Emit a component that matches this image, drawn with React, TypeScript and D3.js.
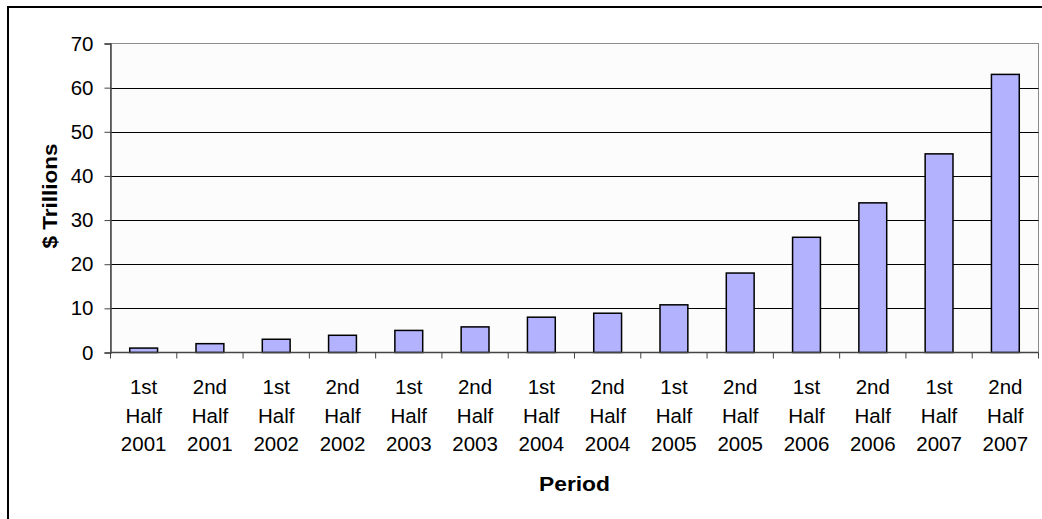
import React, { useEffect, useRef } from 'react';
import * as d3 from 'd3';

const periods = [
  ['1st', 'Half', '2001'], ['2nd', 'Half', '2001'],
  ['1st', 'Half', '2002'], ['2nd', 'Half', '2002'],
  ['1st', 'Half', '2003'], ['2nd', 'Half', '2003'],
  ['1st', 'Half', '2004'], ['2nd', 'Half', '2004'],
  ['1st', 'Half', '2005'], ['2nd', 'Half', '2005'],
  ['1st', 'Half', '2006'], ['2nd', 'Half', '2006'],
  ['1st', 'Half', '2007'], ['2nd', 'Half', '2007'],
];
const trillions = [1, 2, 3, 3.9, 5, 5.8, 8, 8.9, 10.8, 18, 26.1, 33.9, 45, 63];
const yTicks = [0, 10, 20, 30, 40, 50, 60, 70];

const App = () => {
  const svgRef = useRef<SVGSVGElement>(null);

  useEffect(() => {
    const width = 1042;
    const height = 519;
    const left = 110.5, right = 1038.5, top = 43.5, bottom = 352.5;
    const font = 'Arial, "Liberation Sans", sans-serif';
    const fontSize = 20.5;

    const svg = d3.select(svgRef.current)
      .attr('width', width)
      .attr('height', height);
    svg.selectAll('*').remove();

    // Outer chart frame (runs past the window on the right and bottom)
    svg.append('rect')
      .attr('x', 8).attr('y', 7)
      .attr('width', 1100).attr('height', 600)
      .attr('fill', '#fff')
      .attr('stroke', '#000')
      .attr('stroke-width', 2);

    const keys = periods.map((_, i) => String(i));
    const x = d3.scaleBand().domain(keys).range([left, right]).paddingInner(0.58).paddingOuter(0.29);
    const xOuter = d3.scaleBand().domain(keys).range([left, right]);
    const y = d3.scaleLinear().domain([0, 70]).range([bottom, top]);

    // Plot area
    svg.append('rect')
      .attr('x', left).attr('y', top)
      .attr('width', right - left).attr('height', bottom - top)
      .attr('fill', '#fcfcfc')
      .attr('stroke', '#8c8c8c')
      .attr('stroke-width', 1);

    // Gridlines
    svg.append('g')
      .selectAll('line')
      .data(yTicks.filter(t => t > 0 && t < 70))
      .enter()
      .append('line')
      .attr('x1', left).attr('x2', right)
      .attr('y1', d => Math.round(y(d)) + 0.5)
      .attr('y2', d => Math.round(y(d)) + 0.5)
      .attr('stroke', '#000')
      .attr('stroke-width', 1);

    // Bars
    svg.append('g')
      .selectAll('rect')
      .data(trillions)
      .enter()
      .append('rect')
      .attr('x', (_, i) => x(String(i)) as number)
      .attr('y', d => y(d))
      .attr('width', x.bandwidth())
      .attr('height', d => bottom - y(d))
      .attr('fill', '#b2b2ff')
      .attr('stroke', '#000')
      .attr('stroke-width', 1.5);

    // Y axis
    const yAxis = d3.axisLeft(y).tickValues(yTicks).tickSize(6).tickPadding(11);
    const gy = svg.append('g')
      .attr('transform', `translate(${left},0)`)
      .call(yAxis);
    gy.select('.domain').attr('stroke', '#444').attr('stroke-width', 1.5);
    gy.selectAll('.tick line').attr('stroke', '#444');
    gy.selectAll('.tick text')
      .attr('font-family', font)
      .attr('font-size', fontSize)
      .attr('fill', '#000');

    // X axis: baseline and ticks on category boundaries
    svg.append('line')
      .attr('x1', left).attr('x2', right)
      .attr('y1', bottom).attr('y2', bottom)
      .attr('stroke', '#444').attr('stroke-width', 1.5);
    const boundaries = keys.map(k => xOuter(k) as number).concat([right]);
    svg.append('g')
      .selectAll('line')
      .data(boundaries)
      .enter()
      .append('line')
      .attr('x1', d => d).attr('x2', d => d)
      .attr('y1', bottom).attr('y2', bottom + 6)
      .attr('stroke', '#444');

    // Category labels
    const labels = svg.append('g')
      .selectAll('text')
      .data(periods)
      .enter()
      .append('text')
      .attr('text-anchor', 'middle')
      .attr('font-family', font)
      .attr('font-size', fontSize)
      .attr('fill', '#000');
    labels.each(function (d, i) {
      const cx = (xOuter(String(i)) as number) + xOuter.bandwidth() / 2;
      d.forEach((line, j) => {
        d3.select(this).append('tspan')
          .attr('x', cx)
          .attr('y', 394 + j * 28.7)
          .text(line);
      });
    });

    // Axis titles
    svg.append('text')
      .attr('x', (left + right) / 2)
      .attr('y', 490.5)
      .attr('text-anchor', 'middle')
      .attr('font-family', font)
      .attr('font-size', fontSize)
      .attr('font-weight', 'bold')
      .attr('textLength', 71)
      .attr('lengthAdjust', 'spacingAndGlyphs')
      .text('Period');

    svg.append('text')
      .attr('transform', `translate(57,196) rotate(-90)`)
      .attr('text-anchor', 'middle')
      .attr('font-family', font)
      .attr('font-size', fontSize)
      .attr('font-weight', 'bold')
      .attr('textLength', 105)
      .attr('lengthAdjust', 'spacingAndGlyphs')
      .text('$ Trillions');
  }, []);

  return (
    <div style={{ position: 'absolute', left: 0, top: 0 }}>
      <svg ref={svgRef} style={{ display: 'block' }}></svg>
    </div>
  );
};

export default App;
